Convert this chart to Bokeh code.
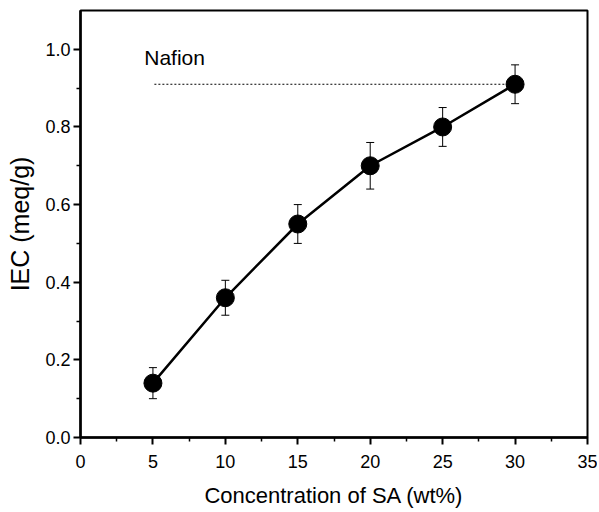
from bokeh.plotting import figure
from bokeh.models import ColumnDataSource, Whisker, Label, Range1d, FixedTicker
from bokeh.embed import file_html
from bokeh.resources import INLINE

conc = [5, 10, 15, 20, 25, 30]
iec = [0.14, 0.36, 0.55, 0.70, 0.80, 0.91]
err = [0.04, 0.045, 0.05, 0.06, 0.05, 0.05]
nafion_x = [5.1, 30]
nafion_y = [0.91, 0.91]
x_ticks = [0, 5, 10, 15, 20, 25, 30, 35]
y_ticks = [0.0, 0.2, 0.4, 0.6, 0.8, 1.0]

src = ColumnDataSource(dict(x=conc, y=iec,
                            lo=[v - e for v, e in zip(iec, err)],
                            hi=[v + e for v, e in zip(iec, err)]))

FONT = "Liberation Sans"
p = figure(width=597, height=510, output_backend="svg", toolbar_location=None,
           x_range=Range1d(0, 35), y_range=Range1d(0, 1.1),
           min_border_left=80, min_border_right=10, min_border_top=10, min_border_bottom=72)
p.grid.visible = False
p.outline_line_color = "black"
p.outline_line_width = 2
p.background_fill_color = "white"
p.border_fill_color = "white"

for ax in (p.xaxis[0], p.yaxis[0]):
    ax.axis_line_width = 2.5
    ax.major_tick_line_width = 2
    ax.minor_tick_line_width = 1.5
    ax.major_tick_out = 7
    ax.major_tick_in = 0
    ax.minor_tick_out = 4
    ax.minor_tick_in = 0
    ax.major_label_text_font = FONT
    ax.major_label_text_color = "black"
    ax.axis_label_text_font = FONT
    ax.axis_label_text_font_style = "normal"
    ax.axis_label_text_color = "black"

p.xaxis.major_label_text_font_size = "18px"
p.yaxis.major_label_text_font_size = "18px"
p.xaxis.axis_label_text_font_size = "22px"
p.yaxis.axis_label_text_font_size = "25px"

p.xaxis.ticker = FixedTicker(ticks=x_ticks, minor_ticks=[2.5, 7.5, 12.5, 17.5, 22.5, 27.5, 32.5])
p.yaxis.ticker = FixedTicker(ticks=y_ticks, minor_ticks=[0.1, 0.3, 0.5, 0.7, 0.9])
p.yaxis.major_label_overrides = {v: f"{v:.1f}" for v in y_ticks}
p.xaxis.axis_label = "Concentration of SA (wt%)"
p.yaxis.axis_label = "IEC (meq/g)"
p.xaxis.major_label_standoff = 10
p.xaxis.axis_label_standoff = 12
p.yaxis.major_label_standoff = 3
p.yaxis.axis_label_standoff = 8

p.line(nafion_x, nafion_y, line_color="black", line_width=1, line_dash="2 2")
p.line("x", "y", source=src, line_color="black", line_width=2.5)
w = Whisker(source=src, base="x", lower="lo", upper="hi", line_color="black", line_width=1)
w.upper_head.size = 8
w.lower_head.size = 8
w.upper_head.line_width = 1
w.lower_head.line_width = 1
p.add_layout(w)
p.scatter("x", "y", source=src, size=18, color="black")

p.add_layout(Label(x=4.4, y=0.98, text="Nafion", text_font=FONT, text_font_size="21px",
                   text_baseline="middle", text_color="black"))

open("out.html", "w").write(file_html(p, INLINE))
